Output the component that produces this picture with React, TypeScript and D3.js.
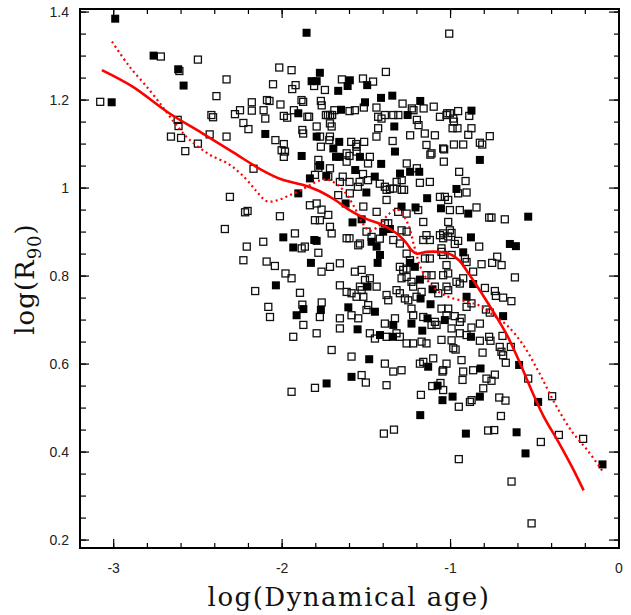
import React from 'react'
import * as d3 from 'd3'

// open squares: [log(Dynamical age), log(R90)]
const openPts: [number, number][] = [
  [-3.08,1.196],[-2.72,1.299],[-2.50,1.292],[-2.61,1.266],[-2.33,1.247],[-2.39,1.209],[-2.42,1.166],[-2.41,1.161],
  [-2.28,1.168],[-2.25,1.177],[-2.23,1.148],[-2.20,1.134],[-2.18,1.195],[-2.18,1.176],[-2.62,1.155],[-2.615,1.141],
  [-2.66,1.117],[-2.60,1.114],[-2.575,1.084],[-2.43,1.122],[-2.33,1.117],[-2.50,1.101],[-2.17,1.044],[-2.31,0.98],
  [-2.22,0.945],[-2.205,0.948],[-2.34,0.907],[-2.21,0.867],[-2.23,0.836],[-2.16,0.766],
  [-1.008,1.351],[-2.017,1.274],[-1.944,1.268],[-1.384,1.264],[-2.054,1.236],[-1.92,1.234],[-1.94,1.225],[-1.81,1.232],
  [-1.746,1.223],[-1.645,1.247],[-1.52,1.249],[-1.46,1.242],[-2.09,1.2],[-2.075,1.198],[-2.11,1.177],[-2.10,1.158],
  [-2.01,1.19],[-1.99,1.164],[-1.97,1.16],[-1.885,1.2],[-1.875,1.196],[-1.93,1.177],[-1.85,1.162],[-1.84,1.162],
  [-1.77,1.198],[-1.765,1.188],[-1.74,1.166],[-1.728,1.166],[-1.715,1.166],[-1.703,1.166],[-1.69,1.177],[-1.716,1.147],
  [-1.706,1.14],[-1.60,1.175],[-1.568,1.177],[-1.515,1.183],[-1.44,1.183],[-1.43,1.162],[-1.41,1.158],[-1.39,1.166],
  [-1.34,1.166],[-1.285,1.192],[-1.22,1.177],[-1.23,1.181],[-1.16,1.181],[-1.10,1.185],[-1.063,1.162],[-1.02,1.17],
  [-1.31,1.166],[-1.20,1.155],[-1.19,1.143],[-1.153,1.124],[-1.093,1.12],[-1.044,1.09],[-1.038,1.088],[-1.43,1.136],
  [-1.88,1.132],[-1.875,1.124],[-1.795,1.14],[-2.04,1.109],[-1.99,1.10],[-2.003,1.086],[-1.983,1.083],[-1.99,1.071],
  [-1.775,1.117],[-1.716,1.117],[-1.72,1.109],[-1.77,1.094],[-1.59,1.105],[-1.56,1.10],[-1.558,1.094],[-1.513,1.105],
  [-1.44,1.117],[-1.344,1.107],[-1.24,1.12],[-1.143,1.098],[-1.113,1.079],[-1.12,1.076],[-1.785,1.064],[-1.775,1.052],
  [-1.785,1.046],[-1.716,1.045],[-1.617,1.079],[-1.60,1.073],[-1.558,1.083],[-1.479,1.071],[-1.49,1.056],[-1.617,1.06],
  [-1.26,1.056],[-1.20,1.045],[-1.182,1.012],[-1.29,1.018],[-1.32,1.014],[-1.34,0.999],[-1.38,0.996],[-1.36,0.998],
  [-1.29,0.996],[-1.276,0.996],[-1.42,1.01],[-1.39,1.003],[-1.52,1.032],[-1.49,1.018],[-1.54,1.014],[-1.657,1.014],
  [-1.60,1.014],[-1.64,1.026],[-1.55,1.003],[-1.805,1.03],[-1.726,1.026],[-1.667,0.984],[-1.598,0.988],[-1.063,0.98],
  [-1.034,0.98],[-1.123,1.014],
  [-1.024,1.166],[-1.004,1.170],[-0.955,1.175],[-0.984,1.158],[-0.98,1.151],[-0.988,1.136],[-0.959,1.136],[-0.876,1.136],
  [-0.889,1.164],[-0.895,1.121],[-0.767,1.118],[-0.826,1.103],[-0.812,1.099],[-0.98,1.099],[-0.925,1.099],[-1.04,1.06],
  [-0.949,1.037],[-0.911,1.016],[-0.905,0.990],[-0.955,0.988],
  [-1.014,0.973],[-1.004,0.950],[-0.945,0.950],[-0.846,0.956],[-0.771,0.933],[-0.757,0.933],[-0.678,0.929],[-1.014,0.923],
  [-1.004,0.904],[-0.994,0.898],[-1.044,0.886],[-1.014,0.89],[-0.955,0.880],[-0.975,0.873],[-0.830,0.867],[-1.054,0.855],
  [-0.994,0.848],[-0.915,0.840],[-0.905,0.832],[-1.024,0.825],[-1.014,0.806],[-0.866,0.810],[-0.816,0.827],[-0.753,0.830],
  [-0.723,0.844],[-0.697,0.825],[-0.618,0.797],[-0.965,0.787],[-0.945,0.783],[-1.014,0.768],[-1.024,0.776],[-0.925,0.795],
  [-0.796,0.773],[-0.737,0.766],[-0.731,0.755],[-0.688,0.751],[-0.639,0.743],[-0.905,0.730],[-0.876,0.738],[-0.790,0.724],
  [-0.767,0.717],[-1.014,0.726],[-1.024,0.711],[-0.975,0.709],[-0.935,0.704],[-0.826,0.692],[-0.876,0.683],[-0.945,0.696],
  [-0.994,0.681],[-0.905,0.666],[-0.945,0.670],[-0.826,0.653],[-0.771,0.662],[-0.763,0.653],[-0.692,0.664],[-0.994,0.654],
  [-0.984,0.636],[-0.97,0.633],[-0.810,0.626],[-0.708,0.639],[-0.698,0.628],[-0.688,0.620],[-0.642,0.639],[-0.672,0.603],
  [-0.935,0.609],[-1.024,0.601],[-1.048,0.583],[-0.925,0.583],[-0.929,0.564],[-0.866,0.586],[-0.737,0.576],[-0.787,0.567],
  [-0.757,0.562],[-0.539,0.567],[-0.806,0.545],
  [-1.044,0.541],[-0.951,0.503],[-0.885,0.514],[-0.875,0.518],[-0.711,0.524],[-0.674,0.517],[-0.701,0.482],[-0.397,0.527],
  [-0.777,0.449],[-0.741,0.450],[-0.357,0.439],[-0.464,0.423],[-0.213,0.430],[-0.951,0.384],[-0.638,0.333],[-0.519,0.238],
  [-1.944,0.537],[-1.805,0.546],[-1.503,0.558],[-1.176,0.530],[-1.109,0.550],[-1.06,0.557],[-1.396,0.442],[-1.336,0.451],
  [-2.013,0.936],[-1.835,0.961],[-1.795,0.965],[-1.766,0.951],[-1.726,0.939],[-1.805,0.927],[-1.776,0.927],[-1.716,0.912],
  [-1.706,0.897],[-1.924,0.897],[-2.112,0.878],[-1.865,0.867],[-1.884,0.863],[-1.785,0.853],[-1.617,0.886],[-1.60,0.886],
  [-1.548,0.870],[-1.538,0.874],[-1.499,0.901],[-1.439,0.946],[-1.518,0.958],[-1.38,0.973],[-1.311,0.946],[-1.261,0.942],
  [-1.39,0.92],[-1.37,0.92],[-1.42,0.885],[-1.469,0.889],[-1.34,0.882],[-1.301,0.874],[-1.291,0.904],[-1.261,0.901],
  [-1.162,0.882],[-1.143,0.893],[-1.123,0.882],[-1.063,0.893],[-1.044,0.897],[-1.162,0.923],[-1.192,0.950],[-1.054,0.863],
  [-1.044,0.848],[-1.123,0.840],[-1.152,0.840],[-1.261,0.851],[-1.241,0.836],[-1.301,0.821],[-1.281,0.814],[-1.261,0.817],
  [-1.291,0.795],[-1.261,0.798],[-1.232,0.787],[-1.222,0.776],[-1.321,0.768],[-1.301,0.761],[-1.271,0.749],[-1.251,0.745],
  [-1.202,0.753],[-1.172,0.764],[-1.093,0.776],[-1.143,0.802],[-1.113,0.802],[-1.073,0.761],[-1.054,0.726],[-1.044,0.802],
  [-1.232,0.726],[-1.222,0.711],[-1.162,0.707],[-1.261,0.647],[-1.222,0.647],[-1.172,0.651],[-1.143,0.647],[-1.113,0.689],
  [-1.39,0.692],[-1.33,0.704],[-1.321,0.670],[-1.38,0.662],[-1.301,0.662],[-1.479,0.670],[-1.449,0.658],[-1.39,0.601],
  [-1.34,0.583],[-1.291,0.586],[-1.182,0.601],[-1.162,0.605],[-1.103,0.613],[-1.044,0.586],[-1.657,0.829],[-1.716,0.821],
  [-1.766,0.810],[-1.568,0.810],[-1.528,0.814],[-1.508,0.791],[-1.479,0.795],[-1.538,0.776],[-1.528,0.768],[-1.617,0.764],
  [-1.588,0.761],[-1.657,0.779],[-1.558,0.753],[-1.518,0.753],[-1.489,0.734],[-1.439,0.776],[-1.38,0.757],[-1.37,0.745],
  [-1.588,0.711],[-1.548,0.704],[-1.657,0.704],[-1.499,0.723],[-1.657,0.681],[-1.776,0.707],[-1.874,0.689],[-1.795,0.670],
  [-1.934,0.662],[-1.706,0.632],[-1.588,0.617],[-1.528,0.575],[-1.38,0.552],[-2.082,0.730],[-2.092,0.833],[-2.043,0.823],
  [-1.944,0.795],[-1.894,0.762],[-2.072,0.707],[-1.093,0.696],[-1.083,0.689],[-1.054,0.655],[-1.98,0.806],[-1.88,0.735],
  [-1.765,0.74],
]

// filled squares
const filledPts: [number, number][] = [
  [-2.991,1.385],[-2.763,1.301],[-2.617,1.270],[-2.585,1.233],[-3.012,1.195],
  [-1.855,1.353],[-1.776,1.262],[-1.825,1.243],[-1.795,1.243],[-1.598,1.245],[-1.667,1.221],[-1.611,1.232],[-1.495,1.234],
  [-1.508,1.195],[-1.413,1.205],[-1.346,1.21],[-1.18,1.198],[-1.904,1.17],[-2.10,1.123],[-1.334,1.14],[-1.795,1.117],
  [-1.661,1.105],[-1.696,1.09],[-1.884,1.073],[-1.68,1.071],[-1.66,1.071],[-1.538,1.071],[-1.33,1.083],[-1.412,1.055],
  [-1.776,1.051],[-1.566,1.041],[-1.45,1.026],[-1.30,1.033],[-1.24,1.037],[-1.186,1.037],[-1.835,1.022],[-1.738,1.028],
  [-1.50,0.99],[-1.139,0.977],[-1.904,0.988],[-1.65,1.178],[-1.255,1.166],
  [-0.876,1.176],[-0.826,1.064],[-0.965,0.998],
  [-0.539,0.935],[-0.648,0.873],[-0.612,0.868],[-0.895,0.942],[-1.057,0.954],[-0.879,0.888],[-0.925,0.854],[-0.866,0.782],
  [-0.905,0.753],[-0.688,0.709],[-1.034,0.700],[-0.879,0.662],[-0.822,0.590],[-0.593,0.598],
  [-1.048,0.518],[-0.988,0.526],[-0.826,0.526],[-0.480,0.514],[-0.909,0.442],[-0.608,0.445],[-0.555,0.397],[-0.098,0.372],
  [-1.736,0.556],[-1.180,0.484],[-1.077,0.551],
  [-1.623,0.965],[-1.528,0.929],[-1.582,0.922],[-1.40,0.901],[-1.36,0.907],[-1.291,0.958],[-1.208,0.956],[-1.469,0.878],
  [-1.439,0.867],[-1.993,0.888],[-1.809,0.882],[-1.795,0.880],[-1.934,0.865],[-1.829,0.830],[-1.419,0.848],[-1.433,0.830],
  [-1.212,0.821],[-1.24,0.83],[-1.182,0.792],[-1.107,0.770],[-1.493,0.776],[-2.037,0.779],[-1.607,0.729],[-1.874,0.725],
  [-1.914,0.711],[-1.770,0.723],[-1.449,0.719],[-1.178,0.749],[-1.119,0.736],[-1.137,0.704],[-1.232,0.692],[-1.34,0.689],
  [-1.552,0.679],[-1.419,0.666],[-1.344,0.662],[-1.168,0.676],[-1.483,0.611],[-1.133,0.594],[-1.588,0.571],
]

// solid red fit
const solidFit: [number, number][] = [
  [-3.07,1.268],[-2.89,1.231],[-2.67,1.17],[-2.48,1.126],[-2.29,1.081],[-2.12,1.041],[-2.005,1.02],[-1.885,1.008],
  [-1.79,0.995],[-1.69,0.974],[-1.60,0.95],[-1.50,0.93],[-1.42,0.919],[-1.36,0.907],[-1.31,0.894],[-1.26,0.874],
  [-1.23,0.858],[-1.20,0.851],[-1.14,0.855],[-1.07,0.855],[-1.01,0.851],[-0.95,0.836],[-0.89,0.804],[-0.82,0.764],
  [-0.74,0.715],[-0.665,0.666],[-0.59,0.604],[-0.52,0.541],[-0.45,0.483],[-0.355,0.42],[-0.28,0.367],[-0.21,0.313],
]

// dotted red fit
const dottedFit: [number, number][] = [
  [-3.01,1.333],[-2.91,1.278],[-2.79,1.224],[-2.70,1.18],[-2.63,1.144],[-2.555,1.112],[-2.435,1.077],[-2.315,1.054],
  [-2.22,1.023],[-2.15,0.992],[-2.09,0.97],[-2.03,0.972],[-1.96,0.983],[-1.885,0.996],[-1.81,1.012],[-1.74,1.02],
  [-1.68,1.01],[-1.63,0.992],[-1.57,0.956],[-1.53,0.925],[-1.48,0.903],[-1.42,0.916],[-1.375,0.938],[-1.32,0.952],
  [-1.29,0.943],[-1.25,0.916],[-1.215,0.867],[-1.18,0.822],[-1.13,0.787],[-1.07,0.764],[-1.0,0.751],[-0.905,0.742],
  [-0.83,0.733],[-0.76,0.715],[-0.665,0.688],[-0.57,0.644],[-0.475,0.581],[-0.38,0.51],[-0.28,0.447],[-0.185,0.403],
  [-0.10,0.358],
]

const xTickVals = [-3, -2, -1, 0]
const xTickLabels = ['-3', '-2', '-1', '0']
const yTickVals = [0.2, 0.4, 0.6, 0.8, 1, 1.2, 1.4]
const yTickLabels = ['0.2', '0.4', '0.6', '0.8', '1', '1.2', '1.4']

const W = 631
const H = 615
const left = 80, right = 619, top = 9, bottom = 548

export default function App() {
  const x = d3.scaleLinear().domain([-3.2, 0]).range([left, right])
  const y = d3.scaleLinear().domain([0.182, 1.407]).range([bottom, top])

  const xMinor = x.ticks(16)
  const yMinor = y.ticks(25)
  const line = d3.line<[number, number]>()
    .x(d => x(d[0]))
    .y(d => y(d[1]))
    .curve(d3.curveCatmullRom.alpha(0.5))

  const major = 9
  const minor = 5
  const sqOpen = 7
  const sqFill = 8

  return (
    <svg width={W} height={H} style={{ position: 'absolute', left: 0, top: 0, display: 'block' }}>
      <rect width={W} height={H} fill="#fff" />

      {/* ticks */}
      {xMinor.map((t, i) => (
        <g key={'xm' + i} stroke="#000" strokeWidth={1.2}>
          <line x1={x(t)} x2={x(t)} y1={bottom} y2={bottom - minor} />
          <line x1={x(t)} x2={x(t)} y1={top} y2={top + minor} />
        </g>
      ))}
      {xTickVals.map((t, i) => (
        <g key={'xM' + i} stroke="#000" strokeWidth={1.2}>
          <line x1={x(t)} x2={x(t)} y1={bottom} y2={bottom - major} />
          <line x1={x(t)} x2={x(t)} y1={top} y2={top + major} />
        </g>
      ))}
      {yMinor.map((t, i) => (
        <g key={'ym' + i} stroke="#000" strokeWidth={1.2}>
          <line x1={left} x2={left + minor + 1} y1={y(t)} y2={y(t)} />
          <line x1={right} x2={right - minor} y1={y(t)} y2={y(t)} />
        </g>
      ))}
      {yTickVals.map((t, i) => (
        <g key={'yM' + i} stroke="#000" strokeWidth={1.2}>
          <line x1={left} x2={left + major} y1={y(t)} y2={y(t)} />
          <line x1={right} x2={right - major - 1} y1={y(t)} y2={y(t)} />
        </g>
      ))}

      {/* tick labels */}
      {xTickVals.map((t, i) => (
        <text key={'xl' + i} x={x(t)} y={573} textAnchor="middle"
          fontFamily="Liberation Sans, Arial, sans-serif" fontSize={14} fill="#222">{xTickLabels[i]}</text>
      ))}
      {yTickVals.map((t, i) => (
        <text key={'yl' + i} x={69} y={y(t) + 5} textAnchor="end"
          fontFamily="Liberation Sans, Arial, sans-serif" fontSize={14} fill="#222">{yTickLabels[i]}</text>
      ))}

      {/* points */}
      {openPts.map((d, i) => (
        <rect key={'o' + i} x={x(d[0]) - sqOpen / 2} y={y(d[1]) - sqOpen / 2} width={sqOpen} height={sqOpen}
          fill="none" stroke="#111" strokeWidth={1.3} />
      ))}
      {filledPts.map((d, i) => (
        <rect key={'f' + i} x={x(d[0]) - sqFill / 2} y={y(d[1]) - sqFill / 2} width={sqFill} height={sqFill} fill="#000" />
      ))}

      {/* fits */}
      <path d={line(dottedFit) ?? ''} fill="none" stroke="#ff0000" strokeWidth={2.2} strokeDasharray="2 3.2" />
      <path d={line(solidFit) ?? ''} fill="none" stroke="#ff0000" strokeWidth={2.6} />

      {/* frame */}
      <rect x={left} y={top} width={right - left} height={bottom - top} fill="none" stroke="#000" strokeWidth={2} />

      {/* axis titles */}
      <text x={349} y={606} textAnchor="middle" fontFamily="DejaVu Serif, serif" fontSize={26}
        letterSpacing={1.5} fill="#111">log(Dynamical age)</text>
      <text transform="translate(34,279) rotate(-90)" textAnchor="middle" fontFamily="DejaVu Serif, serif"
        fontSize={26} letterSpacing={1} fill="#111">
        log(R<tspan fontSize={18} dy={7}>90</tspan><tspan dy={-7}>)</tspan>
      </text>
    </svg>
  )
}
